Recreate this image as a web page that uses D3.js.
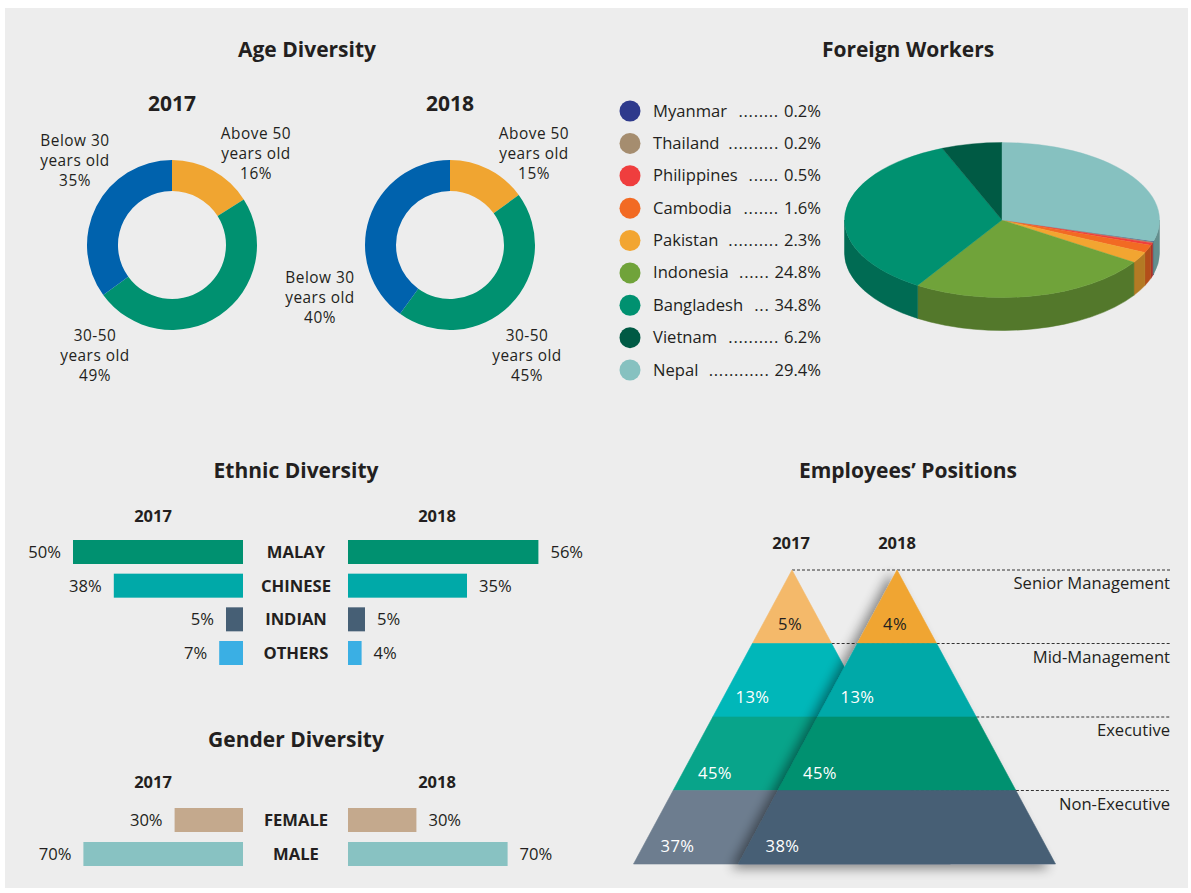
<!DOCTYPE html>
<html>
<head>
<meta charset="utf-8">
<script src="https://cdn.jsdelivr.net/npm/d3@7"></script>
<style>
  html, body { margin: 0; padding: 0; background: #ffffff; }
  svg { display: block; }
  text { font-family: "Open Sans", "Noto Sans", sans-serif; fill: #231f20; }
  .title { font-weight: 700; font-size: 21px; }
  .year { font-weight: 700; font-size: 16.5px; }
  .lbl { font-size: 16.6px; }
  .donutLbl { font-size: 15.4px; letter-spacing: 0.5px; }
  .cat { font-weight: 700; font-size: 16.6px; }
</style>
</head>
<body>
<script>
// ---------- data ----------
const ageGroups = ["Above 50", "30-50", "Below 30"];
const age2017 = [16, 49, 35];
const age2018 = [15, 45, 40];

const countries = ["Myanmar", "Thailand", "Philippines", "Cambodia", "Pakistan", "Indonesia", "Bangladesh", "Vietnam", "Nepal"];
const workerShare = [0.2, 0.2, 0.5, 1.6, 2.3, 24.8, 34.8, 6.2, 29.4];
const pieOrder = ["Nepal", "Myanmar", "Thailand", "Philippines", "Cambodia", "Pakistan", "Indonesia", "Bangladesh", "Vietnam"];

const ethnicGroups = ["MALAY", "CHINESE", "INDIAN", "OTHERS"];
const ethnic2017 = [50, 38, 5, 7];
const ethnic2018 = [56, 35, 5, 4];

const genderGroups = ["FEMALE", "MALE"];
const gender2017 = [30, 70];
const gender2018 = [30, 70];

const positionLevels = ["Senior Management", "Mid-Management", "Executive", "Non-Executive"];
const positions2017 = [5, 13, 45, 37];
const positions2018 = [4, 13, 45, 38];

const years = ["2017", "2018"];

// ---------- colours ----------
const ageColor = d3.scaleOrdinal().domain(ageGroups).range(["#f0a531", "#009170", "#0062ad"]);
const countryColor = d3.scaleOrdinal().domain(countries)
  .range(["#2e3a8c", "#a58d6f", "#ef3e3e", "#f26a23", "#f2a531", "#70a33a", "#009170", "#005a44", "#86c1c0"]);
const ethnicColor = d3.scaleOrdinal().domain(ethnicGroups).range(["#009170", "#00a9a8", "#465f75", "#3aafe4"]);
const genderColor = d3.scaleOrdinal().domain(genderGroups).range(["#c4a98d", "#88c2c2"]);
const level2017Color = d3.scaleOrdinal().domain(positionLevels).range(["#f4b96a", "#00b7b9", "#08a48a", "#6d7d8f"]);
const level2018Color = d3.scaleOrdinal().domain(positionLevels).range(["#f0a531", "#00a9a8", "#009170", "#465f75"]);

const W = 1191, H = 893;
const svg = d3.select("body").append("svg").attr("width", W).attr("height", H);

const defs = svg.append("defs");
const shadow = defs.append("filter").attr("id", "pyrShadow")
  .attr("x", "-30%").attr("y", "-10%").attr("width", "160%").attr("height", "130%");
shadow.append("feGaussianBlur").attr("in", "SourceAlpha").attr("stdDeviation", 6).attr("result", "blur");
shadow.append("feOffset").attr("in", "blur").attr("dx", -7).attr("dy", 4).attr("result", "off");
shadow.append("feComponentTransfer").attr("in", "off").attr("result", "soft")
  .append("feFuncA").attr("type", "linear").attr("slope", 0.45);
const merge = shadow.append("feMerge");
merge.append("feMergeNode").attr("in", "soft");
merge.append("feMergeNode").attr("in", "SourceGraphic");

// panel
svg.append("rect").attr("x", 5).attr("y", 8).attr("width", 1183).attr("height", 880).attr("fill", "#ededed");

function title(x, y, t) {
  svg.append("text").attr("class", "title").attr("x", x).attr("y", y).attr("text-anchor", "middle").text(t);
}
function multiLine(g, x, y, lines, lh) {
  const t = g.append("text").attr("class", "donutLbl").attr("text-anchor", "middle").attr("x", x).attr("y", y);
  lines.forEach((l, i) => t.append("tspan").attr("x", x).attr("dy", i === 0 ? 0 : lh).text(l));
}

// ---------- Age diversity ----------
title(307, 57, "Age Diversity");
const agePie = d3.pie().sort(null).value(d => d.v);
const ageArc = d3.arc().innerRadius(54).outerRadius(85);
const donuts = [
  { year: years[0], values: age2017, cx: 172, cy: 245,
    labels: [[256, 139], [95, 341], [75, 146]] },
  { year: years[1], values: age2018, cx: 450, cy: 245,
    labels: [[534, 139], [527, 341], [320, 283]] }
];
donuts.forEach(dn => {
  svg.append("text").attr("class", "title").attr("x", dn.cx).attr("y", 111)
    .attr("text-anchor", "middle").text(dn.year);
  const g = svg.append("g").attr("transform", `translate(${dn.cx},${dn.cy})`);
  const data = ageGroups.map((k, i) => ({ k, v: dn.values[i] }));
  g.selectAll("path").data(agePie(data)).join("path")
    .attr("d", ageArc).attr("fill", d => ageColor(d.data.k));
  data.forEach((d, i) => {
    multiLine(svg, dn.labels[i][0], dn.labels[i][1], [d.k, "years old", d.v + "%"], 20);
  });
});

// ---------- Foreign workers ----------
title(908, 57, "Foreign Workers");
const legendY = d3.scalePoint().domain(countries).range([111, 370]);
const legendLeft = 653, legendRight = 821;
const legend = svg.append("g");
const probe = legend.append("text").attr("class", "lbl").style("letter-spacing", "0.7px").text("..........");
const dotW = probe.node().getComputedTextLength() / 10;
probe.remove();
countries.forEach((c, i) => {
  const y = legendY(c);
  legend.append("circle").attr("cx", 630).attr("cy", y).attr("r", 10.5).attr("fill", countryColor(c));
  const name = legend.append("text").attr("class", "lbl").attr("x", legendLeft).attr("y", y + 5.5).text(c);
  const val = legend.append("text").attr("class", "lbl").attr("x", legendRight).attr("y", y + 5.5)
    .attr("text-anchor", "end").text(workerShare[i].toFixed(1) + "%");
  const nameW = name.node().getComputedTextLength();
  const gap = legendRight - legendLeft - nameW - val.node().getComputedTextLength() - 12;
  const n = Math.max(3, Math.floor(gap / dotW));
  // dot leader, right-aligned just before the value
  legend.append("text").attr("class", "lbl").style("letter-spacing", "0.7px")
    .attr("x", legendRight - val.node().getComputedTextLength() - 5).attr("y", y + 5.5)
    .attr("text-anchor", "end").text(".".repeat(n));
});

// 3D pie
const pcx = 1002, pcy = 220, prx = 157.5, pry = 77.5, depth = 33;
const workerPie = d3.pie()
  .sort((a, b) => pieOrder.indexOf(a.k) - pieOrder.indexOf(b.k))
  .value(d => d.v);
const workerArcs = workerPie(countries.map((k, i) => ({ k, v: workerShare[i] })));
const pt = (a, dy = 0) => [pcx + prx * Math.sin(a), pcy - pry * Math.cos(a) + dy];
const pie3d = svg.append("g");
// side walls (front half only: angles between PI/2 and 3PI/2)
workerArcs.forEach(d => {
  const s = Math.max(d.startAngle, Math.PI / 2), e = Math.min(d.endAngle, 3 * Math.PI / 2);
  if (e <= s) return;
  const p0 = pt(s), p1 = pt(e), q1 = pt(e, depth), q0 = pt(s, depth);
  const large = (e - s) > Math.PI ? 1 : 0;
  pie3d.append("path")
    .attr("d", `M${p0}A${prx},${pry} 0 ${large} 1 ${p1}L${q1}A${prx},${pry} 0 ${large} 0 ${q0}Z`)
    .attr("fill", d3.color(countryColor(d.data.k)).darker(0.85))
    .attr("stroke", d3.color(countryColor(d.data.k)).darker(0.85)).attr("stroke-width", 0.5);
});
// top faces
workerArcs.forEach(d => {
  const p0 = pt(d.startAngle), p1 = pt(d.endAngle);
  const large = (d.endAngle - d.startAngle) > Math.PI ? 1 : 0;
  pie3d.append("path")
    .attr("d", `M${pcx},${pcy}L${p0}A${prx},${pry} 0 ${large} 1 ${p1}Z`)
    .attr("fill", countryColor(d.data.k))
    .attr("stroke", countryColor(d.data.k)).attr("stroke-width", 0.4);
});

// ---------- Ethnic diversity ----------
title(296, 478, "Ethnic Diversity");
const centreX = 296, left0 = 243, right0 = 348;
svg.append("text").attr("class", "year").attr("x", 153).attr("y", 522).attr("text-anchor", "middle").text(years[0]);
svg.append("text").attr("class", "year").attr("x", 437).attr("y", 522).attr("text-anchor", "middle").text(years[1]);
const ethX = d3.scaleLinear().domain([0, 100]).range([0, 340]);
const ethY = d3.scalePoint().domain(ethnicGroups).range([552, 653]);
const barH = 24;
function mirrorBars(groups, v17, v18, xs, ys, color) {
  const g = svg.append("g");
  groups.forEach((k, i) => {
    const y = ys(k);
    const w17 = xs(v17[i]), w18 = xs(v18[i]);
    g.append("rect").attr("x", left0 - w17).attr("y", y - barH / 2).attr("width", w17).attr("height", barH).attr("fill", color(k));
    g.append("rect").attr("x", right0).attr("y", y - barH / 2).attr("width", w18).attr("height", barH).attr("fill", color(k));
    g.append("text").attr("class", "cat").attr("x", centreX).attr("y", y + 6).attr("text-anchor", "middle").text(k);
    g.append("text").attr("class", "lbl").attr("x", left0 - w17 - 12).attr("y", y + 6).attr("text-anchor", "end").text(v17[i] + "%");
    g.append("text").attr("class", "lbl").attr("x", right0 + w18 + 12).attr("y", y + 6).text(v18[i] + "%");
  });
}
mirrorBars(ethnicGroups, ethnic2017, ethnic2018, ethX, ethY, ethnicColor);

// ---------- Gender diversity ----------
title(296, 747, "Gender Diversity");
svg.append("text").attr("class", "year").attr("x", 153).attr("y", 788).attr("text-anchor", "middle").text(years[0]);
svg.append("text").attr("class", "year").attr("x", 437).attr("y", 788).attr("text-anchor", "middle").text(years[1]);
const genX = d3.scaleLinear().domain([0, 100]).range([0, 228]);
const genY = d3.scalePoint().domain(genderGroups).range([820, 854]);
mirrorBars(genderGroups, gender2017, gender2018, genX, genY, genderColor);

// ---------- Employees' positions ----------
title(908, 478, "Employees\u2019 Positions");
const apexY = 570, baseY = 864, halfBase = 158.5;
const bandY = d3.scaleBand().domain(positionLevels).range([apexY, baseY]);
const halfW = y => (y - apexY) / (baseY - apexY) * halfBase;
const apex17 = 792, apex18 = 897;
svg.append("text").attr("class", "year").attr("x", apex17 - 1).attr("y", 549).attr("text-anchor", "middle").text(years[0]);
svg.append("text").attr("class", "year").attr("x", apex18).attr("y", 549).attr("text-anchor", "middle").text(years[1]);

// dashed guides and level names
const guides = svg.append("g");
positionLevels.forEach(k => {
  const y = bandY(k);
  guides.append("line").attr("x1", apex17 + halfW(y)).attr("x2", 1170).attr("y1", y).attr("y2", y)
    .attr("stroke", "#333").attr("stroke-width", 1).attr("stroke-dasharray", "3,2");
  guides.append("text").attr("class", "lbl").attr("x", 1170).attr("y", y + 19).attr("text-anchor", "end").text(k);
});

function pyramid(apexX, color, filter) {
  const g = svg.append("g");
  if (filter) g.attr("filter", filter);
  positionLevels.forEach(k => {
    const y0 = bandY(k), y1 = y0 + bandY.bandwidth();
    const pts = [[apexX - halfW(y0), y0], [apexX + halfW(y0), y0], [apexX + halfW(y1), y1], [apexX - halfW(y1), y1]];
    g.append("path").attr("d", "M" + pts.join("L") + "Z").attr("fill", color(k))
      .attr("stroke", color(k)).attr("stroke-width", 0.6);
  });
  return g;
}
function pyramidLabels(apexX, values) {
  positionLevels.forEach((k, i) => {
    const y = bandY(k) + bandY.bandwidth() / 2 + (i < 2 ? 23 : 25);
    svg.append("text").attr("class", "lbl").attr("x", apexX - 2 - i * 37.5).attr("y", y)
      .attr("text-anchor", "middle").style("fill", i === 0 ? "#231f20" : "#ffffff")
      .style("letter-spacing", "0.5px")
      .text(values[i] + "%");
  });
}
pyramid(apex17, level2017Color, null);
pyramidLabels(apex17, positions2017);
pyramid(apex18, level2018Color, "url(#pyrShadow)");
pyramidLabels(apex18, positions2018);
</script>
</body>
</html>
